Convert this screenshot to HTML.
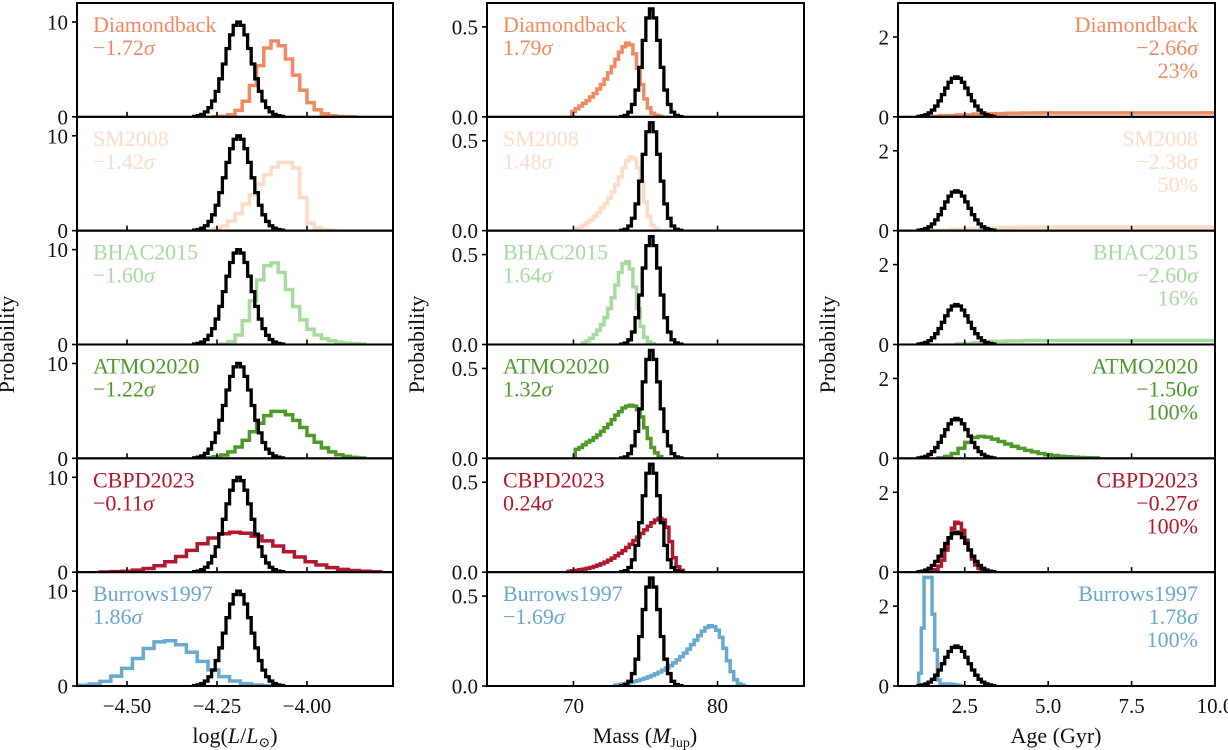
<!DOCTYPE html>
<html><head><meta charset="utf-8">
<style>
html,body{margin:0;padding:0;background:#fff;}
svg{display:block;font-family:"Liberation Serif","DejaVu Serif",serif;}
</style></head>
<body>
<svg id="fig" width="1228" height="750" viewBox="0 0 1228 750" xmlns="http://www.w3.org/2000/svg"></svg>
<script>
// ---------- data ----------
const modelNames = ["Diamondback","SM2008","BHAC2015","ATMO2020","CBPD2023","Burrows1997"];
const modelColors = ["#ef8a62","#fddbc7","#a6dba0","#4d9a2a","#b2182b","#67a9cf"];
const lumSigma = ["\u22121.72","\u22121.42","\u22121.60","\u22121.22","\u22120.11","1.86"];
const massSigma = ["1.79","1.48","1.64","1.32","0.24","\u22121.69"];
const ageSigma = ["\u22122.66","\u22122.38","\u22122.60","\u22121.50","\u22120.27","1.78"];
const agePercent = ["23%","50%","16%","100%","100%","100%"];

const lumTicks = [-4.5,-4.25,-4.0];
const lumTickLabels = ["\u22124.50","\u22124.25","\u22124.00"];
const massTicks = [70,80];
const massTickLabels = ["70","80"];
const ageTicks = [2.5,5.0,7.5,10.0];
const ageTickLabels = ["2.5","5.0","7.5","10.0"];
const lumYTicks = [0,10]; const lumYLabels = ["0","10"];
const massYTicks = [0,0.5]; const massYLabels = ["0.0","0.5"];
const ageYTicks = [0,2]; const ageYLabels = ["0","2"];

// observed (black) histograms
const lumBlackStart = -4.31, lumBlackStep = 0.01;
const lumBlack = [0.05,0.12,0.26,0.52,0.97,1.67,2.68,4.01,5.57,7.20,8.64,9.64,10,9.64,8.64,7.20,5.57,4.01,2.68,1.67,0.97,0.52,0.26,0.12,0.05];
const massBlackStart = 73.4, massBlackStep = 0.25;
const massBlack = [0.002,0.008,0.026,0.069,0.149,0.275,0.425,0.55,0.6,0.55,0.425,0.275,0.149,0.069,0.026,0.008,0.002];
const ageBlackStart = 1.15, ageBlackStep = 0.1;
const ageBlack = [0.012,0.026,0.052,0.097,0.167,0.27,0.40,0.557,0.72,0.864,0.964,1.0,0.964,0.864,0.72,0.557,0.40,0.27,0.167,0.097,0.052,0.026,0.012];

// model histograms — luminosity
const lumStart = [-4.25,-4.27,-4.23,-4.29,-4.56,-4.62];
const lumStep = [0.02,0.02,0.02,0.02,0.03,0.03];
const lumDiamondback = [0.01,0.06,0.22,0.68,1.64,3.3,5.4,7.25,8,7.5,6.1,4.4,2.8,1.5,0.74,0.31,0.11,0.04,0.01,0];
const lumSM2008 = [0.05,0.2,0.5,1.0,1.8,2.8,3.8,4.9,5.9,6.7,7.2,7.2,6.6,3.5,0.8,0.3,0.1,0.03];
const lumBHAC2015 = [0.05,0.3,1.0,2.5,4.6,6.8,8.3,8.6,7.6,5.8,4.0,2.6,1.6,1.0,0.6,0.4,0.25,0.15,0.1,0.05];
const lumATMO2020 = [0.03,0.07,0.16,0.35,0.68,1.2,1.9,2.8,3.7,4.5,4.95,4.95,4.6,4.0,3.25,2.4,1.7,1.1,0.68,0.38,0.2,0.1,0.04];
const lumCBPD2023 = [0.02,0.05,0.1,0.21,0.39,0.68,1.1,1.65,2.3,3.0,3.6,4.05,4.2,4.1,3.8,3.3,2.75,2.15,1.6,1.1,0.75,0.48,0.29,0.17,0.09,0.04];
const lumBurrows1997 = [0.08,0.21,0.49,1.04,1.85,2.9,3.95,4.65,4.77,4.35,3.55,2.6,1.7,0.98,0.52,0.25,0.11,0.04,0.01];

// model histograms — mass
const massStart = [70.0,70.25,70.75,70.25,69.75,73.0];
const massStep = [0.25,0.25,0.25,0.25,0.25,0.25];
const massDiamondback = [0.03,0.045,0.06,0.075,0.09,0.11,0.13,0.155,0.18,0.21,0.245,0.28,0.32,0.36,0.39,0.41,0.40,0.35,0.27,0.18,0.1,0.05,0.02,0.008,0.003];
const massSM2008 = [0.01,0.02,0.03,0.045,0.06,0.08,0.10,0.125,0.15,0.18,0.215,0.255,0.30,0.35,0.39,0.41,0.40,0.35,0.27,0.16,0.08,0.03,0.01];
const massBHAC2015 = [0.01,0.02,0.035,0.055,0.08,0.11,0.15,0.2,0.26,0.33,0.40,0.45,0.46,0.42,0.32,0.2,0.1,0.04,0.015,0.005];
const massATMO2020 = [0.05,0.06,0.075,0.09,0.10,0.115,0.13,0.15,0.17,0.19,0.215,0.24,0.26,0.28,0.29,0.295,0.29,0.27,0.23,0.17,0.11,0.06,0.03,0.01];
const massCBPD2023 = [0.005,0.008,0.01,0.013,0.017,0.021,0.026,0.032,0.039,0.047,0.056,0.066,0.078,0.091,0.105,0.12,0.137,0.155,0.175,0.195,0.215,0.235,0.255,0.275,0.29,0.30,0.29,0.25,0.17,0.08,0.03,0.01];
const massBurrows1997 = [0.005,0.008,0.012,0.016,0.02,0.025,0.03,0.036,0.043,0.05,0.058,0.067,0.077,0.088,0.1,0.113,0.128,0.145,0.163,0.183,0.205,0.23,0.255,0.28,0.305,0.325,0.335,0.33,0.31,0.27,0.21,0.14,0.08,0.035,0.012,0.004];

// model histograms — age
const ageStart = [1.5,1.8,2.5,1.8,1.55,1.16];
const ageStep = [0.5,0.5,0.5,0.2,0.1,0.08];
const ageDiamondback = [0.01,0.03,0.05,0.07,0.08,0.09,0.095,0.1,0.1,0.1,0.1,0.1,0.1,0.1,0.1,0.1,0.1,0.1,0.1];
const ageSM2008 = [0.01,0.03,0.05,0.07,0.08,0.085,0.09,0.09,0.09,0.09,0.09,0.09,0.09,0.09,0.09,0.09,0.09,0.09];
const ageBHAC2015 = [0.02,0.05,0.08,0.09,0.1,0.1,0.1,0.1,0.1,0.1,0.1,0.1,0.1,0.1,0.1,0.1];
const ageATMO2020 = [0.01,0.05,0.12,0.25,0.4,0.52,0.55,0.53,0.48,0.42,0.36,0.3,0.25,0.2,0.16,0.12,0.09,0.07,0.05,0.04,0.03,0.02,0.015,0.01];
const ageCBPD2023 = [0.02,0.06,0.15,0.3,0.55,0.85,1.1,1.25,1.22,1.05,0.8,0.55,0.33,0.18,0.09,0.04,0.02,0.01];
const ageBurrows1997 = [0.32,1.45,2.72,2.72,2.72,1.8,0.9,0.15,0.05,0.05,0.05,0.05,0.04,0.03,0.02,0.01];

const lumSeries = [lumDiamondback,lumSM2008,lumBHAC2015,lumATMO2020,lumCBPD2023,lumBurrows1997];
const massSeries = [massDiamondback,massSM2008,massBHAC2015,massATMO2020,massCBPD2023,massBurrows1997];
const ageSeries = [ageDiamondback,ageSM2008,ageBHAC2015,ageATMO2020,ageCBPD2023,ageBurrows1997];

// ---------- layout ----------
const NS = "http://www.w3.org/2000/svg";
const svg = document.getElementById("fig");
const TOP = 3, PH = 113.83;
const cols = [
  {key:"luminosity", x0:77, x1:393, xmin:-4.639, xmax:-3.761, ymax:12.0,
   ticks:lumTicks, tickLabels:lumTickLabels, yt:lumYTicks, yl:lumYLabels,
   series:lumSeries, starts:lumStart, steps:lumStep, sig:lumSigma,
   black:lumBlack, bStart:lumBlackStart, bStep:lumBlackStep, align:"left"},
  {key:"mass", x0:487, x1:804, xmin:64, xmax:86, ymax:0.633,
   ticks:massTicks, tickLabels:massTickLabels, yt:massYTicks, yl:massYLabels,
   series:massSeries, starts:massStart, steps:massStep, sig:massSigma,
   black:massBlack, bStart:massBlackStart, bStep:massBlackStep, align:"left"},
  {key:"age", x0:898, x1:1215, xmin:0.5, xmax:10.0, ymax:2.85,
   ticks:ageTicks, tickLabels:ageTickLabels, yt:ageYTicks, yl:ageYLabels,
   series:ageSeries, starts:ageStart, steps:ageStep, sig:ageSigma,
   black:ageBlack, bStart:ageBlackStart, bStep:ageBlackStep, align:"right"}
];

function mk(tag, attrs, parent){
  const e = document.createElementNS(NS, tag);
  for (const k in attrs) e.setAttribute(k, attrs[k]);
  (parent||svg).appendChild(e);
  return e;
}
function stepPath(vals, start, step, sx, sy){
  let x = start - step/2;
  let d = "M"+sx(x).toFixed(2)+","+sy(0).toFixed(2);
  for (let i=0;i<vals.length;i++){
    const y = sy(vals[i]).toFixed(2);
    d += "L"+sx(x).toFixed(2)+","+y;
    x += step;
    d += "L"+sx(x).toFixed(2)+","+y;
  }
  d += "L"+sx(x).toFixed(2)+","+sy(0).toFixed(2);
  return d;
}

const defs = mk("defs", {});
cols.forEach((c, ci) => {
  const sx = v => c.x0 + (v - c.xmin)/(c.xmax - c.xmin)*(c.x1 - c.x0);
  for (let r=0;r<6;r++){
    const top = TOP + r*PH, bot = top + PH;
    const sy = v => bot - v/c.ymax*PH;
    const g = mk("g", {});
    
    
    const cid = "clip-"+ci+"-"+r;
    const cp = mk("clipPath", {id:cid}, defs);
    mk("rect", {x:c.x0, y:top, width:c.x1-c.x0, height:PH}, cp);
    const plot = mk("g", {"clip-path":"url(#"+cid+")"}, g);
    const mp = mk("path", {d:stepPath(c.series[r], c.starts[r], c.steps[r], sx, sy), fill:"none", stroke:modelColors[r], "stroke-width":3.5, "stroke-linejoin":"miter"}, plot);
    
    
    const bp = mk("path", {d:stepPath(c.black, c.bStart, c.bStep, sx, sy), fill:"none", stroke:"#000", "stroke-width":3.3, "stroke-linejoin":"miter"}, plot);
    
    
    const fr = mk("rect", {x:c.x0, y:top, width:c.x1-c.x0, height:PH, fill:"none", stroke:"#000", "stroke-width":2}, g);
    
    
    c.ticks.forEach(t => {
      const tx = sx(t);
      if (tx > c.x0+1 && tx < c.x1-1) mk("line", {x1:tx, x2:tx, y1:bot, y2:bot-5, stroke:"#000", "stroke-width":1.6}, g);
    });
    c.yt.forEach((t, ti) => {
      const ty = sy(t);
      mk("line", {x1:c.x0-5, x2:c.x0, y1:ty, y2:ty, stroke:"#000", "stroke-width":1.6}, g);
      const tl = mk("text", {x:c.x0-9, y:ty+7.5, "font-size":21, "text-anchor":"end", fill:"#111"}, g);
      tl.textContent = c.yl[ti];
      
      
    });
    const ax = c.align==="left" ? c.x0+16 : c.x1-17;
    const anchor = c.align==="left"?"start":"end";
    const t1 = mk("text", {x:ax, y:top+29, "font-size":22, fill:modelColors[r], "text-anchor":anchor}, g);
    t1.textContent = modelNames[r];
    
    
    const t2 = mk("text", {x:ax, y:top+52, "font-size":22, fill:modelColors[r], "text-anchor":anchor}, g);
    t2.innerHTML = c.sig[r] + '<tspan font-style="italic">\u03c3</tspan>';
    
    
    if (ci===2){
      const t3 = mk("text", {x:ax, y:top+75, "font-size":22, fill:modelColors[r], "text-anchor":anchor}, g);
      t3.textContent = agePercent[r];
      
      
    }
  }
  const bottom = TOP + 6*PH;
  c.ticks.forEach((t, ti) => {
    const tl = mk("text", {x:sx(t), y:bottom+27, "font-size":21, "text-anchor":"middle", fill:"#111"});
    tl.textContent = c.tickLabels[ti];
    
    
  });
  const yx = c.x0 - 63, yy = TOP + 3*PH;
  const yt = mk("text", {x:yx, y:yy, "font-size":22, "text-anchor":"middle", fill:"#111", transform:"rotate(-90 "+yx+" "+yy+")"});
  yt.textContent = "Probability";
  
  
});

const xt1 = mk("text", {x:235, y:743, "font-size":22, "text-anchor":"middle", fill:"#111"});
xt1.innerHTML = 'log(<tspan font-style="italic">L</tspan>/<tspan font-style="italic">L</tspan><tspan font-size="14" dy="4">\u2299</tspan><tspan dy="-4">)</tspan>';


const xt2 = mk("text", {x:645, y:743, "font-size":22, "text-anchor":"middle", fill:"#111"});
xt2.innerHTML = 'Mass (<tspan font-style="italic">M</tspan><tspan font-size="14" dy="4">Jup</tspan><tspan dy="-4">)</tspan>';


const xt3 = mk("text", {x:1056, y:743, "font-size":22, "text-anchor":"middle", fill:"#111"});
xt3.textContent = "Age (Gyr)";


</script>
</body></html>
